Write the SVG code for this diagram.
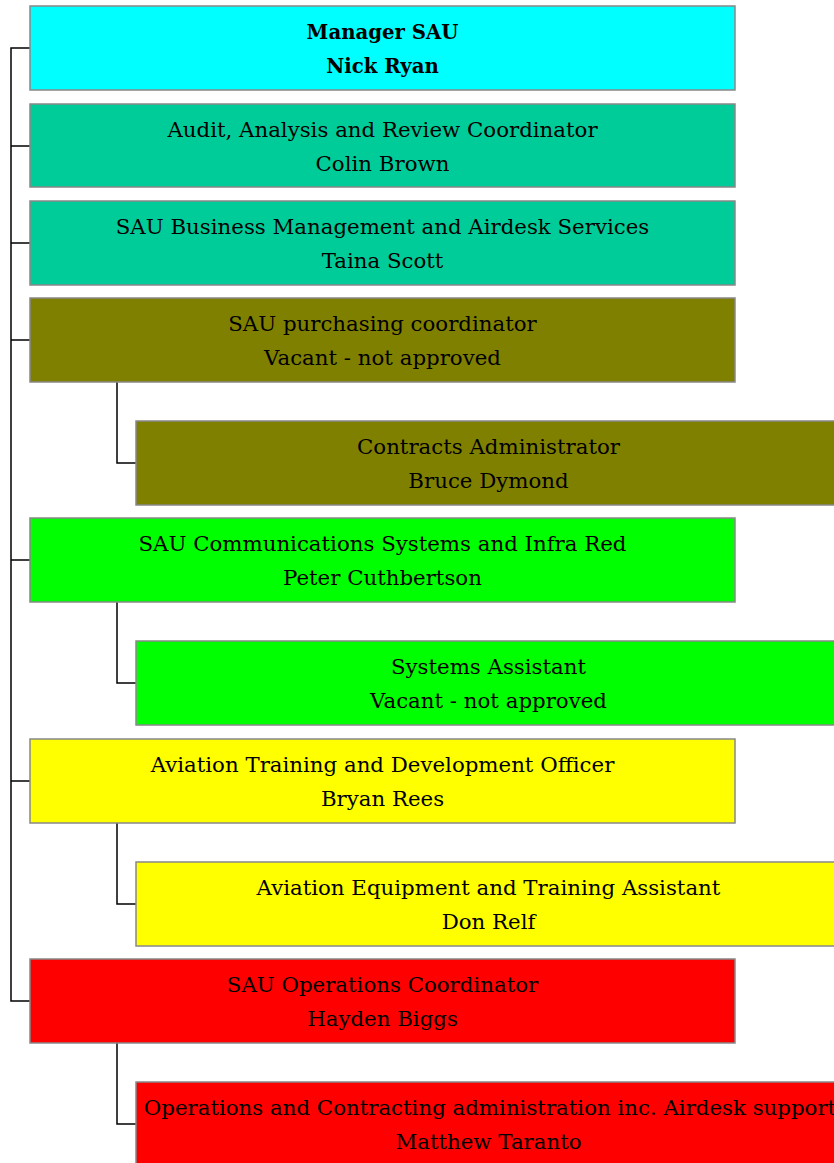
<svg xmlns="http://www.w3.org/2000/svg" width="834" height="1163" viewBox="0 0 834 1163">
<style>
.box{stroke:#888888;stroke-width:1.5}
.t{font-family:"DejaVu Serif","Liberation Serif",serif;font-size:21.3px;fill:#000;text-anchor:middle}
.b{font-weight:bold;font-size:19.7px}
.c{fill:none;stroke:#000;stroke-width:1.5}
</style>
<rect width="834" height="1163" fill="#fff"/>
<g id="connectors">
<path class="c" d="M30,48H11V1001H30M11,146H30M11,243H30M11,340H30M11,560H30M11,781H30"/>
<path class="c" d="M117,382V463H136"/>
<path class="c" d="M117,602V683H136"/>
<path class="c" d="M117,823V904H136"/>
<path class="c" d="M117,1043V1124H136"/>
</g>
<g id="n1"><rect class="box" x="30" y="6" width="705" height="84" fill="#00FFFF"/>
<text class="t b" x="382.5" y="39">Manager SAU</text><text class="t b" x="382.5" y="73">Nick Ryan</text></g>
<g id="n2"><rect class="box" x="30" y="104" width="705" height="83" fill="#00CC99"/>
<text class="t" x="382.5" y="137">Audit, Analysis and Review Coordinator</text><text class="t" x="382.5" y="171">Colin Brown</text></g>
<g id="n3"><rect class="box" x="30" y="201" width="705" height="84" fill="#00CC99"/>
<text class="t" x="382.5" y="234">SAU Business Management and Airdesk Services</text><text class="t" x="382.5" y="268">Taina Scott</text></g>
<g id="n4"><rect class="box" x="30" y="298" width="705" height="84" fill="#808000"/>
<text class="t" x="382.5" y="331">SAU purchasing coordinator</text><text class="t" x="382.5" y="365">Vacant - not approved</text></g>
<g id="n5"><rect class="box" x="136" y="421" width="705" height="84" fill="#808000"/>
<text class="t" x="488.5" y="454">Contracts Administrator</text><text class="t" x="488.5" y="488">Bruce Dymond</text></g>
<g id="n6"><rect class="box" x="30" y="518" width="705" height="84" fill="#00FF00"/>
<text class="t" x="382.5" y="551">SAU Communications Systems and Infra Red</text><text class="t" x="382.5" y="585">Peter Cuthbertson</text></g>
<g id="n7"><rect class="box" x="136" y="641" width="705" height="84" fill="#00FF00"/>
<text class="t" x="488.5" y="674">Systems Assistant</text><text class="t" x="488.5" y="708">Vacant - not approved</text></g>
<g id="n8"><rect class="box" x="30" y="739" width="705" height="84" fill="#FFFF00"/>
<text class="t" x="382.5" y="772">Aviation Training and Development Officer</text><text class="t" x="382.5" y="806">Bryan Rees</text></g>
<g id="n9"><rect class="box" x="136" y="862" width="705" height="84" fill="#FFFF00"/>
<text class="t" x="488.5" y="895">Aviation Equipment and Training Assistant</text><text class="t" x="488.5" y="929">Don Relf</text></g>
<g id="n10"><rect class="box" x="30" y="959" width="705" height="84" fill="#FF0000"/>
<text class="t" x="382.5" y="992">SAU Operations Coordinator</text><text class="t" x="382.5" y="1026">Hayden Biggs</text></g>
<g id="n11"><rect class="box" x="136" y="1082" width="705" height="84" fill="#FF0000"/>
<text class="t" x="490" y="1115">Operations and Contracting administration inc. Airdesk support</text><text class="t" x="488.5" y="1149">Matthew Taranto</text></g>
</svg>
